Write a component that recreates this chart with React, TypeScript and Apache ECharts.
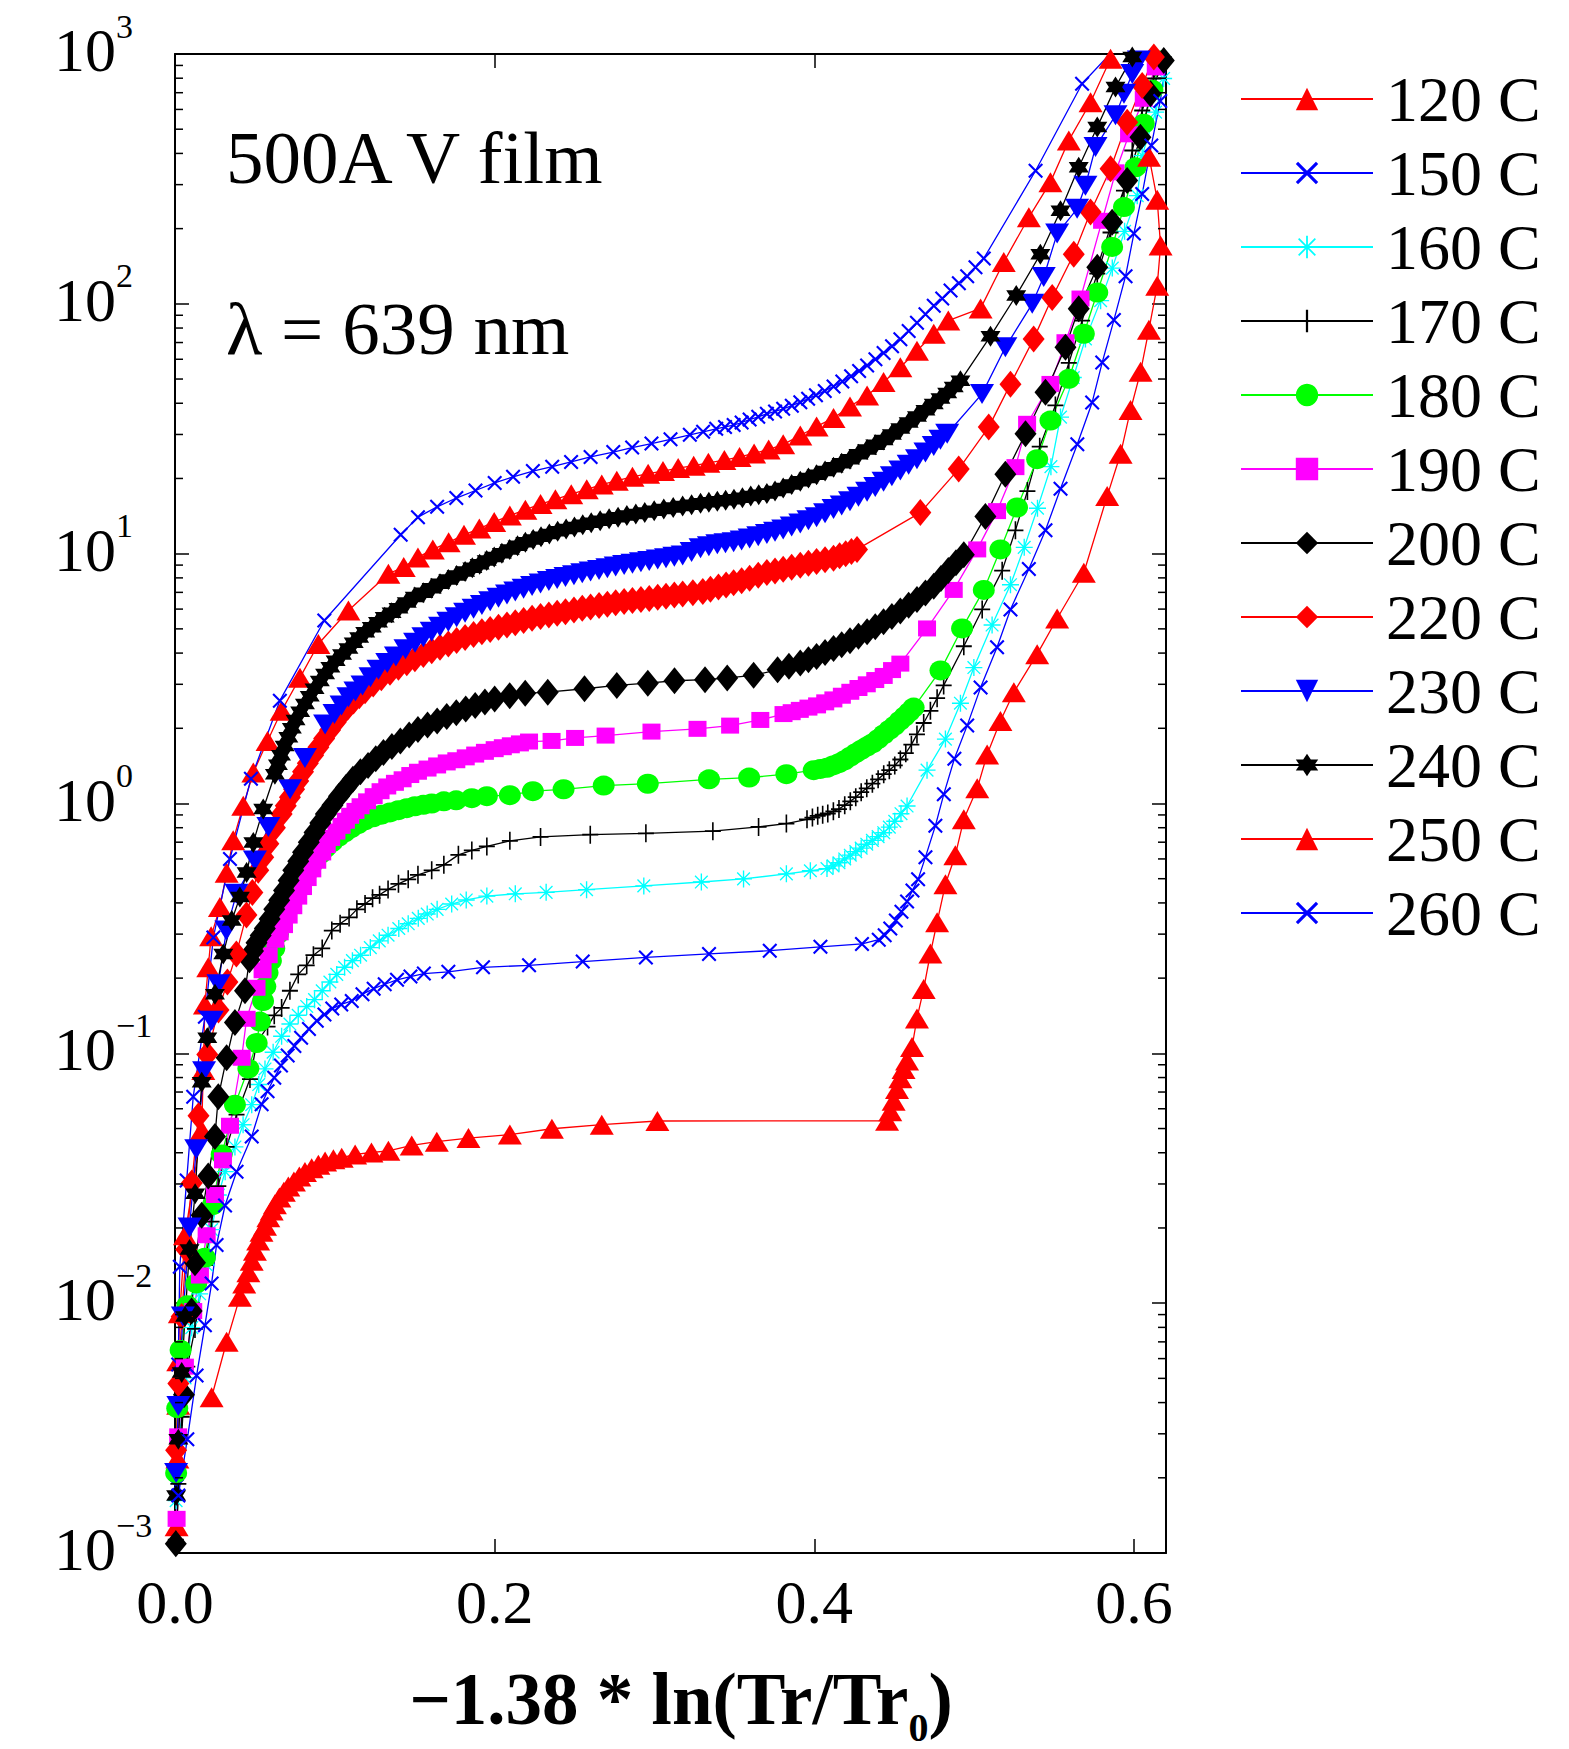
import React, { useEffect, useRef } from 'react';
import * as echarts from 'echarts';

const FONT = '"Liberation Serif", "Times New Roman", serif';

const seriesNames = ['120 C', '150 C', '160 C', '170 C', '180 C', '190 C', '200 C', '220 C', '230 C', '240 C', '250 C', '260 C'];

const xTicks = [0, 0.2, 0.4, 0.6];
const yMinorTicks = [
  0.002, 0.003, 0.004, 0.005, 0.006, 0.007, 0.008, 0.009,
  0.02, 0.03, 0.04, 0.05, 0.06, 0.07, 0.08, 0.09,
  0.2, 0.3, 0.4, 0.5, 0.6, 0.7, 0.8, 0.9,
  2, 3, 4, 5, 6, 7, 8, 9,
  20, 30, 40, 50, 60, 70, 80, 90,
  200, 300, 400, 500, 600, 700, 800, 900,
];

const s120 = [[0.001,0.00128],[0.0015,0.00239],[0.002,0.00392],[0.002,0.00586],[0.003,0.00912],[0.0062,0.0187],[0.0167,0.0492],[0.0177,0.0857],[0.0187,0.157],[0.0208,0.221],[0.0226,0.294],[0.0281,0.385],[0.0323,0.528],[0.0364,0.713],[0.0427,0.98],[0.049,1.33],[0.0579,1.78],[0.0667,2.35],[0.0782,3.19],[0.0897,4.35],[0.1085,5.92],[0.1335,8.31],[0.1431,8.84],[0.152,9.66],[0.1613,10.4],[0.1712,11.1],[0.1808,11.9],[0.1904,12.6],[0.1997,13.4],[0.2095,14.2],[0.2192,15.0],[0.2287,15.8],[0.238,16.5],[0.2479,17.3],[0.2576,18.1],[0.267,18.9],[0.2764,19.6],[0.2862,20.3],[0.296,20.9],[0.3053,21.4],[0.3148,22.0],[0.3245,22.5],[0.3337,23.1],[0.3437,23.7],[0.3532,24.4],[0.3623,25.2],[0.3714,26.1],[0.3805,27.4],[0.3912,29.7],[0.4014,32.3],[0.412,34.9],[0.4223,38.8],[0.433,43.0],[0.4433,48.7],[0.4538,55.7],[0.4642,64.9],[0.4747,75.9],[0.4838,85.7],[0.504,95.9],[0.5185,147],[0.5342,222],[0.5477,307],[0.5592,451],[0.5728,641],[0.5853,957]];

const s150 = [[0.001,0.00185],[0.002,0.00568],[0.003,0.014],[0.0073,0.031],[0.0114,0.067],[0.0187,0.14],[0.024,0.291],[0.0344,0.6],[0.0475,1.256],[0.0656,2.58],[0.0934,5.4],[0.1412,11.9],[0.152,14.0],[0.164,15.4],[0.176,16.7],[0.188,17.9],[0.2,19.2],[0.2115,20.3],[0.2239,21.4],[0.236,22.3],[0.2478,23.3],[0.26,24.4],[0.2742,25.5],[0.286,26.6],[0.2981,27.6],[0.31,28.7],[0.3221,29.9],[0.3304,30.75],[0.3386,31.6],[0.3441,32.15],[0.3495,32.7],[0.3545,33.5],[0.3595,34.4],[0.3649,35.3],[0.3703,36.3],[0.3754,37.1],[0.3805,38.0],[0.3859,39.1],[0.3912,40.4],[0.3961,41.7],[0.401,43.1],[0.4065,44.8],[0.412,46.7],[0.4175,48.9],[0.423,51.3],[0.428,53.9],[0.433,56.7],[0.4382,60.0],[0.4433,63.6],[0.4486,67.7],[0.4538,72.2],[0.459,77.8],[0.4642,84.0],[0.4695,90.8],[0.4747,98.3],[0.48,105],[0.4852,113],[0.4904,121],[0.4956,129],[0.5008,140],[0.506,152],[0.5384,341],[0.5675,760],[0.588,1050]];

const s160 = [[0.0007,0.00162],[0.0028,0.00285],[0.0063,0.00502],[0.0105,0.00798],[0.0154,0.0109],[0.0198,0.0142],[0.0229,0.0197],[0.0271,0.0271],[0.0314,0.0336],[0.0375,0.0422],[0.0426,0.0518],[0.048,0.0623],[0.0524,0.075],[0.0563,0.0866],[0.0614,0.101],[0.0667,0.117],[0.0719,0.131],[0.0771,0.142],[0.0824,0.154],[0.0873,0.164],[0.0921,0.178],[0.0969,0.193],[0.1012,0.207],[0.1061,0.221],[0.111,0.235],[0.1161,0.247],[0.1222,0.265],[0.1278,0.282],[0.1333,0.297],[0.14,0.316],[0.1459,0.33],[0.1522,0.347],[0.1578,0.361],[0.164,0.377],[0.1731,0.396],[0.1822,0.411],[0.1951,0.426],[0.2129,0.435],[0.2322,0.441],[0.2575,0.452],[0.2933,0.468],[0.3293,0.485],[0.3557,0.499],[0.3825,0.523],[0.3975,0.538],[0.4079,0.549],[0.4117,0.563],[0.4154,0.579],[0.419,0.6],[0.4225,0.621],[0.4259,0.642],[0.4293,0.663],[0.4328,0.687],[0.4363,0.712],[0.4399,0.737],[0.4434,0.764],[0.4469,0.804],[0.4503,0.849],[0.4542,0.91],[0.458,0.977],[0.4705,1.36],[0.482,1.81],[0.4914,2.52],[0.4998,3.5],[0.5112,5.18],[0.5227,7.51],[0.5313,10.6],[0.5396,15.2],[0.548,22.3],[0.554,35.2],[0.562,50.7],[0.5696,72.4],[0.5791,103],[0.5864,139],[0.5941,195],[0.602,271],[0.6051,392],[0.6135,585],[0.6185,798]];

const s170 = [[0.0005,0.00113],[0.0021,0.00189],[0.0042,0.00351],[0.0077,0.00557],[0.0125,0.00789],[0.0187,0.0142],[0.0229,0.0212],[0.0271,0.0294],[0.0323,0.0422],[0.0385,0.0568],[0.0469,0.0789],[0.0511,0.11],[0.0579,0.128],[0.0621,0.142],[0.0667,0.152],[0.0719,0.178],[0.0771,0.207],[0.0824,0.225],[0.0866,0.247],[0.0921,0.263],[0.0981,0.31],[0.1033,0.33],[0.1089,0.35],[0.1138,0.377],[0.1189,0.396],[0.1236,0.418],[0.128,0.431],[0.1333,0.453],[0.1398,0.477],[0.1459,0.497],[0.152,0.518],[0.1606,0.54],[0.1682,0.568],[0.1773,0.623],[0.1857,0.649],[0.1951,0.673],[0.2095,0.709],[0.2287,0.735],[0.2598,0.75],[0.2946,0.76],[0.3365,0.775],[0.3651,0.806],[0.3825,0.831],[0.3954,0.864],[0.3988,0.878],[0.4021,0.893],[0.4052,0.902],[0.4084,0.912],[0.4119,0.93],[0.4154,0.95],[0.419,0.985],[0.4225,1.02],[0.4259,1.06],[0.4293,1.11],[0.4328,1.15],[0.4363,1.2],[0.4399,1.25],[0.4434,1.31],[0.4469,1.36],[0.4503,1.42],[0.4538,1.5],[0.4572,1.59],[0.4607,1.72],[0.4642,1.89],[0.4684,2.1],[0.4726,2.35],[0.4768,2.64],[0.4809,2.97],[0.4935,4.26],[0.505,5.98],[0.5175,8.55],[0.5258,12.4],[0.5333,17.8],[0.541,26.8],[0.5508,39.2],[0.5592,58],[0.5675,85.7],[0.577,132],[0.5853,193],[0.5937,284],[0.5989,411],[0.6051,594],[0.6122,798],[0.6186,971]];

const s180 = [[0.0007,0.00209],[0.0014,0.0038],[0.0035,0.0065],[0.0077,0.0098],[0.0133,0.012],[0.0187,0.0152],[0.0237,0.0247],[0.0292,0.0394],[0.0375,0.0623],[0.0459,0.0869],[0.0511,0.11],[0.0531,0.134],[0.0551,0.162],[0.0565,0.185],[0.0579,0.21],[0.06,0.235],[0.0621,0.263],[0.0644,0.3],[0.0667,0.34],[0.0693,0.372],[0.0719,0.405],[0.0745,0.433],[0.0771,0.463],[0.0798,0.495],[0.0824,0.529],[0.085,0.56],[0.0876,0.592],[0.0909,0.627],[0.0942,0.663],[0.0982,0.699],[0.1022,0.735],[0.1063,0.767],[0.1103,0.798],[0.1146,0.828],[0.1189,0.857],[0.124,0.88],[0.1291,0.902],[0.1345,0.921],[0.1398,0.94],[0.145,0.958],[0.1501,0.975],[0.1554,0.988],[0.1606,1.0],[0.1682,1.02],[0.1759,1.03],[0.1857,1.05],[0.1951,1.07],[0.2095,1.08],[0.2239,1.12],[0.2431,1.14],[0.2682,1.18],[0.2958,1.2],[0.3341,1.25],[0.3592,1.27],[0.3825,1.31],[0.3996,1.36],[0.4038,1.375],[0.4079,1.39],[0.4117,1.42],[0.4154,1.45],[0.419,1.49],[0.4225,1.54],[0.4259,1.59],[0.4293,1.64],[0.4328,1.69],[0.4363,1.74],[0.4399,1.81],[0.4434,1.89],[0.4469,1.97],[0.4503,2.05],[0.4534,2.14],[0.4565,2.23],[0.4593,2.32],[0.4621,2.42],[0.4789,3.41],[0.4924,5.02],[0.506,7.16],[0.5164,10.4],[0.5268,15.3],[0.5394,23.9],[0.5477,34.1],[0.5592,50.1],[0.5686,75.9],[0.577,111],[0.5863,169],[0.5937,244],[0.6009,352],[0.6061,526],[0.6115,719],[0.6166,942]];

const s190 = [[0.001,0.00137],[0.002,0.00293],[0.0062,0.00557],[0.0114,0.0093],[0.0156,0.0129],[0.0198,0.0187],[0.025,0.0271],[0.03,0.0373],[0.0344,0.0513],[0.0417,0.096],[0.0448,0.1375],[0.051,0.183],[0.0548,0.215],[0.0586,0.247],[0.0628,0.285],[0.0655,0.305],[0.0682,0.326],[0.0711,0.356],[0.074,0.388],[0.0771,0.424],[0.0801,0.463],[0.083,0.503],[0.0859,0.545],[0.089,0.59],[0.0921,0.637],[0.0949,0.682],[0.0977,0.728],[0.101,0.772],[0.1042,0.814],[0.1069,0.853],[0.1096,0.893],[0.1129,0.934],[0.1161,0.975],[0.1202,1.02],[0.1243,1.07],[0.1286,1.12],[0.1328,1.17],[0.1376,1.21],[0.1424,1.25],[0.1472,1.3],[0.152,1.34],[0.158,1.38],[0.164,1.42],[0.17,1.46],[0.176,1.49],[0.1819,1.53],[0.1878,1.57],[0.1939,1.61],[0.2,1.65],[0.2051,1.68],[0.2101,1.71],[0.2158,1.74],[0.2215,1.77],[0.2356,1.78],[0.2503,1.83],[0.2694,1.87],[0.2981,1.94],[0.3269,1.99],[0.3473,2.05],[0.3662,2.16],[0.3807,2.28],[0.3858,2.32],[0.3909,2.37],[0.3963,2.42],[0.4017,2.47],[0.4068,2.54],[0.4119,2.61],[0.4172,2.7],[0.4225,2.8],[0.4276,2.9],[0.4328,3.0],[0.4381,3.12],[0.4434,3.24],[0.4486,3.42],[0.4538,3.63],[0.4705,5.02],[0.4872,7.16],[0.5019,10.4],[0.5143,14.8],[0.5258,22.2],[0.5331,33.1],[0.5477,47.8],[0.5571,70.2],[0.5665,105],[0.58,215],[0.5884,336],[0.5969,477],[0.6061,662],[0.6136,884]];

const s200 = [[0.0005,0.00109],[0.0056,0.0043],[0.0104,0.0093],[0.0125,0.0145],[0.0167,0.0225],[0.0208,0.0323],[0.025,0.0465],[0.0271,0.067],[0.0323,0.096],[0.0375,0.133],[0.0438,0.178],[0.0466,0.237],[0.0488,0.257],[0.051,0.277],[0.0536,0.296],[0.0562,0.316],[0.0592,0.345],[0.0621,0.377],[0.0652,0.41],[0.0682,0.449],[0.0711,0.492],[0.074,0.54],[0.0771,0.587],[0.0801,0.638],[0.0837,0.7],[0.0873,0.765],[0.0909,0.835],[0.0944,0.908],[0.0985,0.985],[0.1026,1.07],[0.107,1.16],[0.1113,1.25],[0.116,1.34],[0.1208,1.42],[0.1256,1.51],[0.1304,1.6],[0.1357,1.69],[0.141,1.78],[0.1465,1.88],[0.152,1.98],[0.158,2.06],[0.164,2.14],[0.17,2.23],[0.176,2.31],[0.1819,2.39],[0.1878,2.47],[0.1939,2.55],[0.2,2.62],[0.2094,2.7],[0.2191,2.76],[0.2332,2.79],[0.2562,2.88],[0.2764,2.97],[0.2958,3.03],[0.3125,3.1],[0.3316,3.13],[0.3455,3.18],[0.362,3.26],[0.377,3.43],[0.3841,3.54],[0.3912,3.65],[0.3963,3.76],[0.4014,3.88],[0.4067,4.02],[0.412,4.17],[0.4171,4.32],[0.4223,4.48],[0.4276,4.67],[0.433,4.87],[0.4381,5.1],[0.4433,5.34],[0.4485,5.6],[0.4538,5.9],[0.459,6.22],[0.4642,6.56],[0.4695,6.96],[0.4747,7.4],[0.4792,7.95],[0.4838,8.57],[0.4886,9.2],[0.4935,9.9],[0.507,14.1],[0.5195,20.8],[0.5321,30.2],[0.5446,44.3],[0.5571,67],[0.5654,95.5],[0.577,140],[0.5863,212],[0.5957,312],[0.604,464],[0.6103,693],[0.6186,942]];

const s220 = [[0.0007,0.00258],[0.0021,0.00477],[0.0042,0.00884],[0.007,0.0164],[0.0105,0.0303],[0.0147,0.0562],[0.0202,0.099],[0.0272,0.149],[0.0328,0.193],[0.0384,0.25],[0.0447,0.358],[0.0484,0.44],[0.0521,0.54],[0.0552,0.61],[0.0584,0.69],[0.0625,0.8],[0.0667,0.908],[0.0693,0.98],[0.0719,1.06],[0.0745,1.14],[0.0771,1.23],[0.0801,1.34],[0.0831,1.45],[0.0864,1.56],[0.0897,1.68],[0.0933,1.82],[0.097,1.97],[0.1006,2.12],[0.1043,2.28],[0.108,2.43],[0.1117,2.57],[0.1153,2.7],[0.1189,2.83],[0.124,3.01],[0.1291,3.19],[0.1345,3.35],[0.1398,3.51],[0.145,3.66],[0.1501,3.8],[0.1554,3.95],[0.1606,4.09],[0.1658,4.22],[0.171,4.35],[0.1762,4.49],[0.1815,4.62],[0.1868,4.75],[0.192,4.87],[0.1972,4.97],[0.2024,5.07],[0.2077,5.18],[0.2129,5.29],[0.2181,5.4],[0.2234,5.51],[0.2287,5.6],[0.2339,5.68],[0.2391,5.77],[0.2443,5.86],[0.2496,5.95],[0.2548,6.04],[0.26,6.12],[0.2653,6.2],[0.2705,6.28],[0.2757,6.36],[0.281,6.43],[0.2862,6.49],[0.2915,6.56],[0.2967,6.62],[0.302,6.69],[0.3072,6.76],[0.3124,6.83],[0.3176,6.9],[0.324,6.97],[0.3302,7.05],[0.335,7.2],[0.34,7.35],[0.3448,7.5],[0.3495,7.64],[0.3545,7.8],[0.3595,7.98],[0.3649,8.2],[0.3703,8.41],[0.3754,8.53],[0.3805,8.66],[0.3858,8.82],[0.3912,8.98],[0.3963,9.15],[0.4014,9.31],[0.4067,9.45],[0.412,9.58],[0.4158,9.8],[0.4196,10.0],[0.4232,10.2],[0.4267,10.4],[0.4663,14.6],[0.4903,21.8],[0.5091,32.1],[0.5227,47.7],[0.5372,72.4],[0.5488,106],[0.5623,158],[0.5728,233],[0.5853,347],[0.5957,533],[0.6051,748],[0.6124,972]];

const s230 = [[0.0007,0.00209],[0.0021,0.00388],[0.0049,0.00884],[0.0091,0.0201],[0.0133,0.0413],[0.0182,0.0848],[0.023,0.135],[0.0272,0.189],[0.0321,0.31],[0.0384,0.435],[0.05,0.592],[0.0584,0.806],[0.072,1.14],[0.0813,1.52],[0.0939,2.07],[0.0998,2.28],[0.1042,2.47],[0.1085,2.66],[0.1129,2.81],[0.1173,2.97],[0.1223,3.2],[0.1273,3.43],[0.1328,3.65],[0.1382,3.88],[0.1442,4.14],[0.1502,4.4],[0.1554,4.63],[0.1606,4.87],[0.1658,5.1],[0.171,5.34],[0.1762,5.57],[0.1815,5.8],[0.1868,6.02],[0.192,6.23],[0.1972,6.45],[0.2024,6.66],[0.2077,6.86],[0.2129,7.05],[0.2181,7.24],[0.2234,7.42],[0.2287,7.6],[0.2339,7.78],[0.2391,7.92],[0.2443,8.06],[0.2496,8.2],[0.2548,8.35],[0.26,8.48],[0.2653,8.61],[0.2705,8.75],[0.2757,8.88],[0.281,9.0],[0.2862,9.12],[0.2915,9.24],[0.2967,9.35],[0.302,9.47],[0.3072,9.59],[0.3124,9.72],[0.3176,9.84],[0.3232,10.15],[0.3288,10.5],[0.334,10.7],[0.3393,10.9],[0.3444,11.0],[0.3495,11.1],[0.3545,11.3],[0.3595,11.5],[0.3649,11.75],[0.3703,12.0],[0.3754,12.25],[0.3805,12.5],[0.3858,12.85],[0.3912,13.2],[0.3963,13.6],[0.4014,14.0],[0.4067,14.5],[0.412,15.1],[0.4171,15.6],[0.4223,16.2],[0.4276,16.9],[0.433,17.7],[0.4381,18.5],[0.4433,19.4],[0.4485,20.4],[0.4538,21.5],[0.459,22.7],[0.4642,23.9],[0.4695,25.4],[0.4747,27.0],[0.4789,28.6],[0.4831,30.2],[0.5049,43.6],[0.5195,67.0],[0.5363,100],[0.5435,128],[0.5519,191],[0.5644,240],[0.5696,297],[0.5759,424],[0.5884,568],[0.5937,693],[0.5989,832],[0.603,942]];

const s240 = [[0.0007,0.0017],[0.0021,0.00285],[0.0042,0.00528],[0.0063,0.00884],[0.0091,0.0164],[0.0126,0.0274],[0.0167,0.0766],[0.0202,0.1155],[0.025,0.1725],[0.0302,0.25],[0.0355,0.34],[0.0406,0.422],[0.0448,0.529],[0.049,0.698],[0.0552,0.95],[0.0625,1.31],[0.0644,1.43],[0.0663,1.56],[0.0686,1.7],[0.0709,1.84],[0.0731,2.0],[0.0754,2.16],[0.0783,2.33],[0.0813,2.5],[0.0843,2.69],[0.0873,2.88],[0.0906,3.09],[0.0939,3.3],[0.0972,3.51],[0.1005,3.73],[0.1045,3.95],[0.1085,4.17],[0.1118,4.4],[0.1152,4.62],[0.119,4.85],[0.1231,5.07],[0.127,5.32],[0.1312,5.57],[0.1355,5.8],[0.1398,6.04],[0.145,6.37],[0.15,6.7],[0.1553,6.98],[0.1606,7.27],[0.1658,7.58],[0.171,7.89],[0.1762,8.18],[0.1815,8.48],[0.186,8.78],[0.1906,9.07],[0.195,9.38],[0.1997,9.7],[0.2045,10.05],[0.2094,10.4],[0.2143,10.75],[0.2192,11.1],[0.2241,11.4],[0.229,11.7],[0.2342,12.0],[0.2394,12.3],[0.2447,12.55],[0.2499,12.8],[0.2551,13.05],[0.2604,13.3],[0.266,13.55],[0.2716,13.8],[0.2772,14.0],[0.2827,14.2],[0.2883,14.4],[0.2939,14.6],[0.2998,14.85],[0.3058,15.1],[0.3117,15.3],[0.3176,15.5],[0.3232,15.7],[0.3288,15.9],[0.334,16.05],[0.3393,16.2],[0.3445,16.35],[0.3497,16.5],[0.355,16.75],[0.3602,17.0],[0.3652,17.2],[0.3703,17.4],[0.3754,17.8],[0.3805,18.3],[0.3858,18.9],[0.3912,19.5],[0.3963,20.1],[0.4014,20.7],[0.4067,21.4],[0.412,22.2],[0.4171,23.0],[0.4223,23.9],[0.4276,25.0],[0.433,26.1],[0.4381,27.3],[0.4433,28.5],[0.4485,30.0],[0.4538,31.7],[0.459,33.5],[0.4642,35.4],[0.4695,37.5],[0.4747,39.7],[0.4789,41.8],[0.4831,44.0],[0.4872,46.5],[0.4914,49.2],[0.5102,74.2],[0.5263,108],[0.5414,158],[0.554,236],[0.5654,352],[0.577,510],[0.5884,737],[0.5989,972]];

const s250 = [[0.0229,0.0042],[0.0323,0.00701],[0.0406,0.0106],[0.0433,0.012],[0.0459,0.0133],[0.048,0.0148],[0.05,0.0162],[0.052,0.0178],[0.0541,0.0193],[0.0563,0.0204],[0.0584,0.0221],[0.0605,0.0235],[0.0625,0.0249],[0.0653,0.0265],[0.0681,0.0279],[0.0709,0.0293],[0.0744,0.0307],[0.0778,0.0321],[0.0813,0.0335],[0.0855,0.0347],[0.0897,0.0358],[0.0939,0.0369],[0.0991,0.0377],[0.1043,0.0382],[0.1127,0.0394],[0.1229,0.0401],[0.1335,0.0407],[0.1481,0.0428],[0.1638,0.0443],[0.1836,0.0458],[0.2095,0.0473],[0.2358,0.0499],[0.267,0.0518],[0.3018,0.0536],[0.4455,0.0537],[0.4475,0.0586],[0.4496,0.0646],[0.4517,0.072],[0.4538,0.0794],[0.4558,0.0866],[0.458,0.0936],[0.4611,0.106],[0.4642,0.138],[0.4684,0.181],[0.4726,0.251],[0.4768,0.335],[0.482,0.475],[0.4882,0.621],[0.4935,0.864],[0.5019,1.15],[0.5081,1.57],[0.5164,2.14],[0.5248,2.79],[0.5394,3.96],[0.5519,5.5],[0.5686,8.39],[0.5832,17.0],[0.5916,25.1],[0.5978,37.6],[0.6041,53.5],[0.6093,78.8],[0.6145,118],[0.6166,171],[0.6145,261],[0.6094,388]];

const s260 = [[0.0021,0.0017],[0.0077,0.00285],[0.0135,0.00513],[0.0187,0.00815],[0.0229,0.012],[0.026,0.0171],[0.0313,0.0246],[0.0385,0.0336],[0.048,0.0465],[0.0542,0.0625],[0.0579,0.0705],[0.0621,0.0798],[0.0663,0.0893],[0.0705,0.098],[0.0747,0.107],[0.0789,0.1155],[0.0838,0.125],[0.0887,0.135],[0.0935,0.143],[0.0984,0.151],[0.104,0.157],[0.1106,0.162],[0.1173,0.1725],[0.1243,0.1815],[0.1312,0.189],[0.1389,0.197],[0.1473,0.203],[0.1557,0.2085],[0.171,0.212],[0.1927,0.221],[0.2215,0.225],[0.2551,0.233],[0.2946,0.242],[0.3341,0.25],[0.3721,0.2575],[0.4038,0.267],[0.4298,0.274],[0.4403,0.285],[0.444,0.297],[0.4475,0.316],[0.451,0.34],[0.4545,0.369],[0.458,0.405],[0.4614,0.449],[0.4649,0.497],[0.4695,0.61],[0.4757,0.814],[0.481,1.09],[0.4876,1.51],[0.4956,2.05],[0.504,2.91],[0.5143,4.22],[0.5227,5.98],[0.5342,8.69],[0.5446,12.4],[0.554,18.2],[0.5645,27.4],[0.5738,40.3],[0.5801,58.3],[0.5874,86.1],[0.5947,129],[0.5999,191],[0.6051,275],[0.6108,430],[0.6164,649],[0.6206,931]];

const SYM_X = 'path://M0,2 L2,0 L20,18 L18,20 Z M18,0 L20,2 L2,20 L0,18 Z';
const SYM_PLUS = 'path://M9,0 L11,0 L11,20 L9,20 Z M0,9 L20,9 L20,11 L0,11 Z';
const SYM_AST = 'path://M9.2,0 L10.8,0 L10.8,20 L9.2,20 Z M0,9.2 L20,9.2 L20,10.8 L0,10.8 Z M2,3.1 L3.1,2 L18,16.9 L16.9,18 Z M16.9,2 L18,3.1 L3.1,18 L2,16.9 Z';
const SYM_STAR6 = 'path://M10,0 L18.66,15 L1.34,15 Z M10,20 L1.34,5 L18.66,5 Z';
const SYM_DOWN = 'path://M0,0 L20,0 L10,17 Z';

const defs = [
  { data: s120, color: '#ff0000', symbol: 'triangle', size: [24, 20] },
  { data: s150, color: '#0000ff', symbol: SYM_X, size: 15 },
  { data: s160, color: '#00ffff', symbol: SYM_AST, size: 17 },
  { data: s170, color: '#000000', symbol: SYM_PLUS, size: [16, 18] },
  { data: s180, color: '#00ff00', symbol: 'circle', size: [22, 20] },
  { data: s190, color: '#ff00ff', symbol: 'rect', size: [18, 16] },
  { data: s200, color: '#000000', symbol: 'diamond', size: [22, 27] },
  { data: s220, color: '#ff0000', symbol: 'diamond', size: [22, 27] },
  { data: s230, color: '#0000ff', symbol: SYM_DOWN, size: [24, 20] },
  { data: s240, color: '#000000', symbol: SYM_STAR6, size: [20, 21] },
  { data: s250, color: '#ff0000', symbol: 'triangle', size: [24, 20] },
  { data: s260, color: '#0000ff', symbol: SYM_X, size: 15 },
];

export default function App() {
  const ref = useRef<HTMLDivElement>(null);
  useEffect(() => {
    if (!ref.current) return;
    const chart = echarts.init(ref.current, undefined, { renderer: 'svg' });
    const axisLineStyle = { color: '#000', width: 2 };
    const tickStyle = { color: '#000', width: 1.5 };
    const supDigits = (v: number) => {
      const e = Math.round(Math.log10(v));
      return e < 0 ? '\u2212' + Math.abs(e) : String(e);
    };
    const lineSeries = defs.map((d, i) => ({
      name: seriesNames[i],
      type: 'line',
      xAxisIndex: 0,
      yAxisIndex: 0,
      data: d.data,
      symbol: d.symbol,
      symbolSize: d.size,
      showSymbol: true,
      lineStyle: { color: d.color, width: 1.3 },
      itemStyle: { color: d.color },
      emphasis: { disabled: true },
      clip: true,
    }));
    const option: any = {
      animation: false,
      backgroundColor: '#ffffff',
      textStyle: { fontFamily: FONT },
      grid: { left: 175, top: 54, width: 991, height: 1499, containLabel: false },
      legend: {
        data: seriesNames,
        orient: 'vertical',
        left: 1240,
        top: 67,
        padding: 0,
        itemWidth: 132,
        itemHeight: 28,
        itemGap: 10,
        selectedMode: false,
        textStyle: { fontFamily: FONT, fontSize: 64, color: '#000', lineHeight: 62, padding: [0, 0, 0, 8] },
      },
      xAxis: [
        {
          type: 'value', min: 0, max: 0.62, position: 'bottom',
          axisLine: { show: true, onZero: false, lineStyle: axisLineStyle },
          axisTick: { show: true, inside: true, length: 14, customValues: xTicks, lineStyle: tickStyle },
          axisLabel: { customValues: xTicks, formatter: (v: number) => v.toFixed(1), fontSize: 62, color: '#000', margin: 18, fontFamily: FONT },
          splitLine: { show: false },
        },
        {
          type: 'value', min: 0, max: 0.62, position: 'top',
          axisLine: { show: true, onZero: false, lineStyle: axisLineStyle },
          axisTick: { show: true, inside: true, length: 14, customValues: xTicks, lineStyle: tickStyle },
          axisLabel: { show: false },
          splitLine: { show: false },
        },
      ],
      yAxis: [
        {
          type: 'log', logBase: 10, min: 0.001, max: 1000, position: 'left',
          axisLine: { show: true, onZero: false, lineStyle: axisLineStyle },
          axisTick: { show: true, inside: true, length: 14, lineStyle: tickStyle },
          axisLabel: {
            formatter: (v: number) => '{b|10}{s|' + supDigits(v) + '}',
            align: 'left', margin: 121, color: '#000',
            padding: [0, 0, 8, 0],
            rich: {
              b: { fontSize: 62, lineHeight: 82, fontFamily: FONT, color: '#000' },
              s: { fontSize: 34, lineHeight: 34, verticalAlign: 'top', fontFamily: FONT, color: '#000' },
            },
          },
          splitLine: { show: false },
        },
        {
          type: 'log', logBase: 10, min: 0.001, max: 1000, position: 'right',
          axisLine: { show: true, onZero: false, lineStyle: axisLineStyle },
          axisTick: { show: true, inside: true, length: 14, lineStyle: tickStyle },
          axisLabel: { show: false },
          splitLine: { show: false },
        },
      ],
      graphic: [
        { type: 'text', x: 226, y: 157, style: { text: '500A V film', fontSize: 75, fontFamily: FONT, fill: '#000', align: 'left', verticalAlign: 'middle' } },
        { type: 'text', x: 226, y: 328, style: { text: '\u03bb = 639 nm', fontSize: 75, fontFamily: FONT, fill: '#000', align: 'left', verticalAlign: 'middle' } },
        {
          type: 'text', x: 681, y: 1705,
          style: {
            text: '{m|\u22121.38 * ln(Tr/Tr}{s|0}{m|)}',
            align: 'center', verticalAlign: 'middle', fill: '#000',
            rich: {
              m: { fontSize: 73, fontWeight: 'bold', fontFamily: FONT, lineHeight: 73, verticalAlign: 'top', fill: '#000' },
              s: { fontSize: 40, fontWeight: 'bold', fontFamily: FONT, lineHeight: 84, verticalAlign: 'bottom', fill: '#000' },
            },
          },
        },
      ],
      series: [
        ...lineSeries,
        {
          type: 'custom',
          xAxisIndex: 0,
          yAxisIndex: 0,
          silent: true,
          z: 10,
          data: yMinorTicks.map((v) => [0, v]),
          encode: { x: 0, y: 1 },
          renderItem: (params: any, api: any) => {
            const pt = api.coord([0, api.value(1)]);
            const cs = params.coordSys;
            const len = 8;
            return {
              type: 'group',
              children: [
                { type: 'line', shape: { x1: cs.x, y1: pt[1], x2: cs.x + len, y2: pt[1] }, style: { stroke: '#000', lineWidth: 1.5 } },
                { type: 'line', shape: { x1: cs.x + cs.width - len, y1: pt[1], x2: cs.x + cs.width, y2: pt[1] }, style: { stroke: '#000', lineWidth: 1.5 } },
              ],
            };
          },
        },
      ],
    };
    chart.setOption(option);
    return () => chart.dispose();
  }, []);
  return <div ref={ref} style={{ position: 'fixed', left: 0, top: 0, width: 1569, height: 1749, background: '#fff' }} />;
}
